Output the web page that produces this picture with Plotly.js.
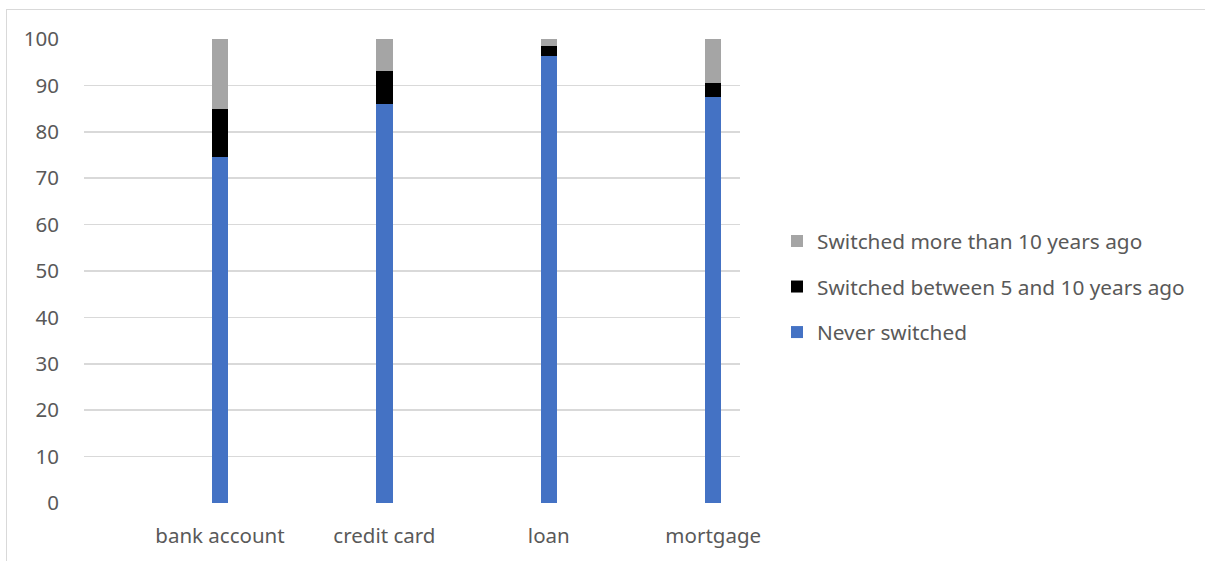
<!DOCTYPE html>
<html>
<head>
<meta charset="utf-8">
<script src="https://cdn.plot.ly/plotly-3.0.1.min.js"></script>
<style>
  html, body { margin: 0; padding: 0; background: #ffffff; }
  #wrap { position: relative; width: 1205px; height: 561px; overflow: hidden; }
  #chart { position: absolute; left: 0; top: 0; width: 1205px; height: 561px; }
  #frame { position: absolute; left: 6px; top: 9px; width: 1300px; height: 700px;
           border-left: 1px solid #d9d9d9; border-top: 1px solid #d9d9d9; pointer-events: none; }
</style>
</head>
<body>
<div id="wrap">
  <div id="chart"></div>
  <div id="frame"></div>
</div>
<script>
const categories = ["bank account", "credit card", "loan", "mortgage"];
const neverSwitched = [74.5, 86.1, 96.4, 87.6];
const switched5to10 = [10.4, 7.1, 2.0, 3.0];
const switchedOver10 = [15.1, 6.8, 1.6, 9.4];
const seriesNames = ["Never switched", "Switched between 5 and 10 years ago", "Switched more than 10 years ago"];
const seriesColors = ["#4472C4", "#000000", "#A5A5A5"];
const yTicks = [0, 10, 20, 30, 40, 50, 60, 70, 80, 90, 100];

const FONT = "Noto Sans, Liberation Sans, Arial, sans-serif";
const values = [neverSwitched, switched5to10, switchedOver10];
const xIdx = categories.map((c, i) => i);

const traces = values.map((v, k) => ({
  type: "bar",
  x: xIdx,
  y: v,
  name: seriesNames[k],
  legendgroup: "g" + k,
  legendrank: 100 - k,
  width: 0.1,
  marker: { color: seriesColors[k], line: { width: 0 } },
  hoverinfo: "y+name"
}));

const layout = {
  width: 1205,
  height: 561,
  margin: { l: 84, r: 465, t: 38.5, b: 57.5, pad: 0 },
  paper_bgcolor: "#ffffff",
  plot_bgcolor: "#ffffff",
  barmode: "stack",
  font: { family: FONT, size: 20.5, color: "#595959" },
  xaxis: {
    type: "linear",
    range: [-0.827, 3.163],
    tickmode: "array",
    tickvals: xIdx,
    ticktext: categories,
    showgrid: false,
    zeroline: false,
    showline: false,
    ticks: "outside",
    ticklen: 14,
    tickcolor: "rgba(0,0,0,0)",
    tickfont: { family: FONT, size: 20.5, color: "#595959" },
    fixedrange: true
  },
  yaxis: {
    range: [0, 100],
    tickmode: "array",
    tickvals: yTicks,
    ticktext: yTicks.map(String),
    showgrid: true,
    gridcolor: "#d9d9d9",
    gridwidth: 1.6,
    zeroline: false,
    showline: false,
    ticks: "outside",
    ticklen: 20,
    tickcolor: "rgba(0,0,0,0)",
    tickfont: { family: FONT, size: 20.5, color: "#595959" },
    fixedrange: true
  },
  legend: {
    x: 1.0564,
    xanchor: "left",
    y: 0.4656,
    yanchor: "middle",
    traceorder: "grouped",
    tracegroupgap: 15.5,
    bgcolor: "rgba(0,0,0,0)",
    borderwidth: 0,
    font: { family: FONT, size: 20.8, color: "#595959" }
  },
  showlegend: true
};

Plotly.newPlot("chart", traces, layout, { displayModeBar: false, staticPlot: true });
</script>
</body>
</html>
